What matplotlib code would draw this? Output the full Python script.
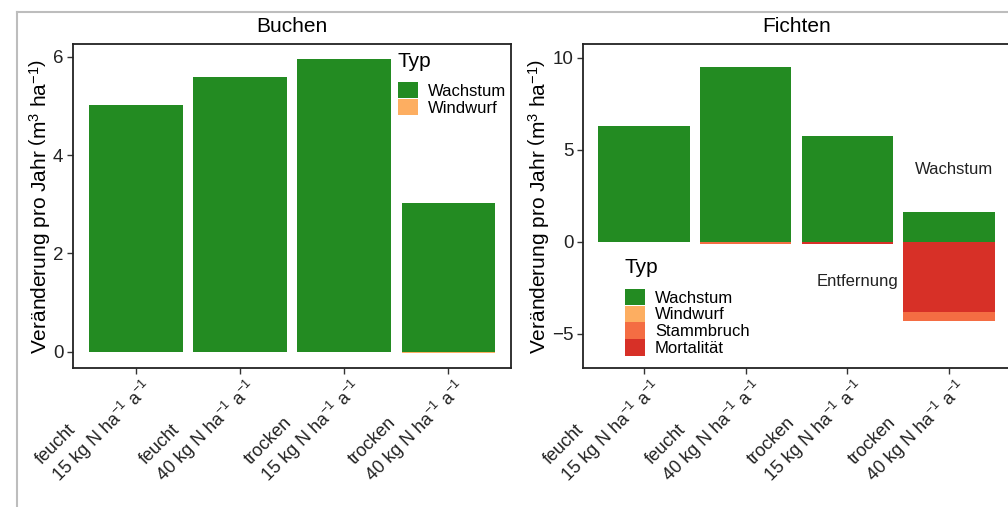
import numpy as np
import matplotlib
matplotlib.use('Agg')
import matplotlib.pyplot as plt
from matplotlib.patches import Patch
from matplotlib.lines import Line2D
from matplotlib.transforms import ScaledTranslation

plt.rcParams['font.family'] = ['Liberation Sans', 'DejaVu Sans']
plt.rcParams['mathtext.fontset'] = 'custom'
plt.rcParams['mathtext.rm'] = 'Liberation Sans'
plt.rcParams['mathtext.it'] = 'Liberation Sans:italic'

# data
categories = [
    "feucht\n15 kg N ha$^{-1}$ a$^{-1}$",
    "feucht\n40 kg N ha$^{-1}$ a$^{-1}$",
    "trocken\n15 kg N ha$^{-1}$ a$^{-1}$",
    "trocken\n40 kg N ha$^{-1}$ a$^{-1}$",
]
buchen_wachstum = [5.02, 5.58, 5.95, 3.03]
buchen_windwurf = [0.0, 0.0, 0.0, -0.02]

fichten_wachstum = [6.29, 9.52, 5.74, 1.64]
fichten_mortalitaet = [0.0, -0.03, -0.12, -3.79]
fichten_stammbruch = [0.0, -0.07, -0.02, -0.50]
fichten_windwurf = [0.0, 0.0, 0.0, -0.02]

colors = {"Wachstum": "#238b22", "Windwurf": "#fdae61",
          "Stammbruch": "#f46d43", "Mortalität": "#d73027"}

fig = plt.figure(figsize=(10.08, 5.07), dpi=100)
W, H = 1008, 507

# gray frame around the plot area (cropped on right/bottom)
fig.add_artist(Line2D([17 / W, 17 / W], [0, 1 - 12 / H], transform=fig.transFigure,
                      color="#bdbdbd", lw=1.5))
fig.add_artist(Line2D([17 / W, 1], [1 - 12 / H, 1 - 12 / H], transform=fig.transFigure,
                      color="#bdbdbd", lw=1.5))

ax1 = fig.add_axes([73 / W, 1 - 368 / H, 438 / W, 324 / H])
ax2 = fig.add_axes([583 / W, 1 - 368 / H, 427 / W, 324 / H])

x = np.arange(1, 5)
width = 0.9
shift = ScaledTranslation(-9 / 100, 8 / 100, fig.dpi_scale_trans)


def style(ax, title):
    ax.set_xlim(0.4, 4.6)
    ax.set_xticks(x)
    ax.set_title(title, fontsize=15, pad=9)
    ax.set_ylabel(r"Veränderung pro Jahr $\left(\mathrm{m}^{3}\ \mathrm{ha}^{-1}\right)$",
                  fontsize=15, labelpad=0)
    ax.tick_params(axis='both', length=4, width=1, color='#333333', labelsize=13.5,
                   labelcolor='#222222', pad=3)
    ax.tick_params(axis='x', pad=-3)
    ax.set_xticklabels(categories, rotation=45, ha='right', rotation_mode='anchor',
                       multialignment='left', fontsize=13)
    # move the rotated labels up towards the axis (done after tick_params)
    for lab in ax.get_xticklabels():
        lab.set_transform(lab.get_transform() + shift)
    for s in ax.spines.values():
        s.set_linewidth(1.3)
        s.set_color('#222222')


def add_legend(ax, names, anchor):
    handles = [Patch(facecolor=colors[k], edgecolor='none') for k in names]
    leg = ax.legend(handles, names, title="Typ", loc='upper left',
                    bbox_to_anchor=anchor, frameon=False, fontsize=12,
                    title_fontsize=15, handlelength=1.2, handleheight=1.15,
                    labelspacing=0.0, handletextpad=0.6, borderpad=0.2)
    leg._legend_box.align = "left"
    leg._legend_box.sep = 8
    return leg


# Buchen
ax1.bar(x, buchen_wachstum, width, color=colors["Wachstum"])
ax1.bar(x, buchen_windwurf, width, color=colors["Windwurf"])
ax1.set_ylim(-0.33, 6.26)
ax1.set_yticks([0, 2, 4, 6])
style(ax1, "Buchen")
add_legend(ax1, ["Wachstum", "Windwurf"], (0.715, 1.012))

# Fichten
ax2.bar(x, fichten_wachstum, width, color=colors["Wachstum"])
ax2.bar(x, fichten_mortalitaet, width, color=colors["Mortalität"])
b2 = np.array(fichten_mortalitaet)
ax2.bar(x, fichten_stammbruch, width, bottom=b2, color=colors["Stammbruch"])
b2 = b2 + np.array(fichten_stammbruch)
ax2.bar(x, fichten_windwurf, width, bottom=b2, color=colors["Windwurf"])
ax2.set_ylim(-6.86, 10.76)
ax2.set_yticks([-5, 0, 5, 10])
ax2.set_yticklabels(["\u22125", "0", "5", "10"])
style(ax2, "Fichten")
ax2.text(4.05, 3.95, "Wachstum", ha='center', va='center', fontsize=12, color='#222222')
ax2.text(3.1, -2.15, "Entfernung", ha='center', va='center', fontsize=12, color='#222222')

add_legend(ax2, ["Wachstum", "Windwurf", "Stammbruch", "Mortalität"], (0.071, 0.374))

fig.savefig("out.png", dpi=100)
